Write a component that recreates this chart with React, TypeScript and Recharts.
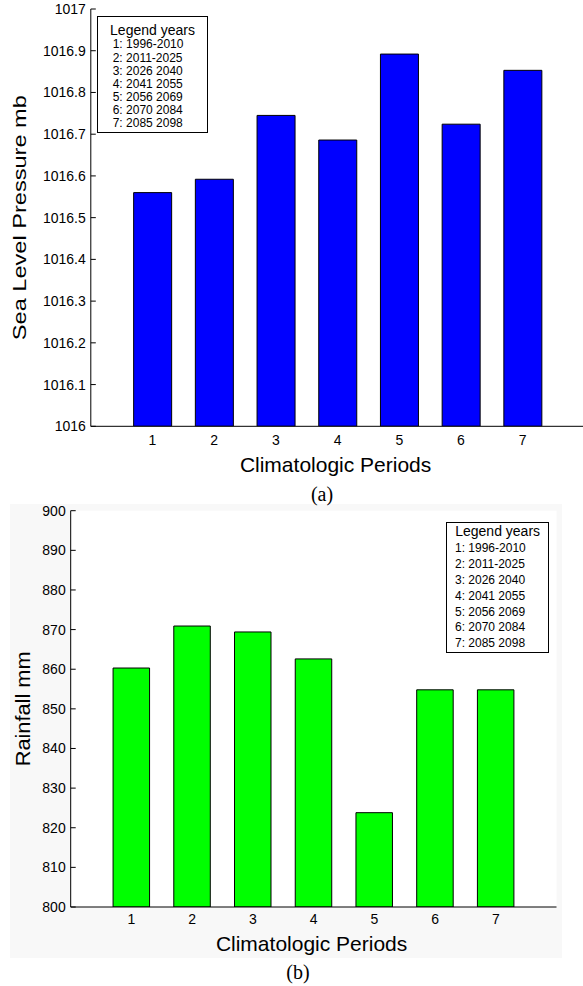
import React from 'react';
import { BarChart, Bar, XAxis, YAxis, CartesianGrid } from 'recharts';

const periods = [1, 2, 3, 4, 5, 6, 7];
const periodYears = ['1996-2010', '2011-2025', '2026 2040', '2041 2055', '2056 2069', '2070 2084', '2085 2098'];

// mean sea level pressure for each period (mb)
const pressureMb = [1016.56, 1016.592, 1016.745, 1016.686, 1016.892, 1016.724, 1016.853];
const pressureTicks = [1016, 1016.1, 1016.2, 1016.3, 1016.4, 1016.5, 1016.6, 1016.7, 1016.8, 1016.9, 1017];

// mean rainfall for each period (mm)
const rainfallMm = [860.3, 870.9, 869.4, 862.6, 823.8, 854.8, 854.8];
const rainfallTicks = [800, 810, 820, 830, 840, 850, 860, 870, 880, 890, 900];

const FONT = '"Liberation Sans", Arial, Helvetica, sans-serif';
const SERIF = '"Liberation Serif", "Times New Roman", serif';

const pressureData = periods.map((p, i) => ({ period: p, value: pressureMb[i] }));
const rainfallData = periods.map((p, i) => ({ period: p, value: rainfallMm[i] }));

const fmtTick = (v: number) => (Number.isInteger(v) ? String(v) : v.toFixed(1));
const tickStyle = { fill: '#000', fontSize: 14, fontFamily: FONT };
const line = { stroke: '#000', strokeWidth: 1 };

const XTitle = (props: any) => {
  const { viewBox, text, dy } = props;
  return (
    <text
      x={viewBox.x + viewBox.width / 2 - 2}
      y={viewBox.y + dy}
      textAnchor="middle"
      dominantBaseline="central"
      fontFamily={FONT}
      fontSize={21}
      fill="#000"
    >
      {text}
    </text>
  );
};

const YTitle = (props: any) => {
  const { viewBox, text, cx, fontSize, length } = props;
  const cy = viewBox.y + viewBox.height / 2;
  return (
    <text
      transform={`translate(${cx},${cy}) rotate(-90)`}
      textAnchor="middle"
      dominantBaseline="central"
      fontFamily={FONT}
      fontSize={fontSize}
      fill="#000"
      textLength={length}
      lengthAdjust="spacingAndGlyphs"
    >
      {text}
    </text>
  );
};

// boxed list of the year ranges behind each period number
const YearsBox = ({ left, top, width, height, headerY, rowY, rowH, indent }: any) => (
  <div
    style={{
      position: 'absolute', left, top, width, height, boxSizing: 'border-box',
      border: '1px solid #000', background: '#fff', fontFamily: FONT, color: '#000',
    }}
  >
    <div style={{ position: 'absolute', left: 0, right: 0, top: headerY - 9, lineHeight: '16px', fontSize: 14, textAlign: 'center' }}>
      Legend years
    </div>
    {periodYears.map((y, i) => (
      <div
        key={y}
        style={{
          position: 'absolute', left: indent, top: rowY + i * rowH - rowH / 2 - 1,
          lineHeight: `${rowH}px`, fontSize: 12, whiteSpace: 'nowrap',
        }}
      >
        {`${periods[i]}: ${y}`}
      </div>
    ))}
  </div>
);

const Caption = ({ x, y, text }: any) => (
  <div style={{ position: 'absolute', left: x - 20, top: y - 12, width: 40, lineHeight: '24px', textAlign: 'center', fontFamily: SERIF, fontSize: 20, color: '#000' }}>
    {text}
  </div>
);

const PeriodBars = ({ data, ticks, domain, color, width, height, margin, yWidth, barSize, xTickGap, title, titleX, titleSize, titleLength, xTitleDy }: any) => (
  <BarChart width={width} height={height} data={data} margin={margin}>
    <CartesianGrid fill="#fff" horizontal={false} vertical={false} />
    <XAxis
      dataKey="period" type="number" domain={[0, 8]} ticks={periods} allowDataOverflow
      height={30} tickSize={0} tickMargin={xTickGap} tick={tickStyle}
      axisLine={line} tickLine={false}
      label={<XTitle text="Climatologic Periods" dy={xTitleDy} />}
    />
    <XAxis
      xAxisId="top" orientation="top" dataKey="period" type="number" domain={[0, 8]} ticks={periods} allowDataOverflow
      height={0} tickSize={-5} tick={false} axisLine={line} tickLine={line}
    />
    <YAxis
      type="number" domain={domain} ticks={ticks} allowDataOverflow interval={0}
      width={yWidth} tickSize={-5} tickMargin={10} tick={tickStyle} tickFormatter={fmtTick}
      axisLine={line} tickLine={line}
      label={<YTitle text={title} cx={titleX} fontSize={titleSize} length={titleLength} />}
    />
    <YAxis
      yAxisId="right" orientation="right" dataKey="value" type="number" domain={domain} ticks={ticks} allowDataOverflow interval={0}
      width={0} tickSize={-5} tick={false} axisLine={line} tickLine={line}
    />
    <Bar dataKey="value" fill={color} stroke="#000" strokeWidth={1} barSize={barSize} isAnimationActive={false} />
  </BarChart>
);

export default function App() {
  return (
    <div style={{ position: 'absolute', left: 0, top: 0, width: 583, height: 986, overflow: 'hidden', background: '#fff' }}>
      <div style={{ position: 'absolute', left: 10, top: 504, width: 552, height: 454, background: '#f8f8f8' }} />

      <div style={{ position: 'absolute', left: 0, top: 0 }}>
        <PeriodBars
          data={pressureData} ticks={pressureTicks} domain={[1016, 1017]} color="#0000ff"
          width={600} height={490} margin={{ top: 9, right: 15.6, bottom: 33.7, left: 10.8 }}
          yWidth={80} barSize={38} xTickGap={8.7}
          title="Sea Level Pressure mb" titleX={20.3} titleSize={18} titleLength={245} xTitleDy={38}
        />
      </div>
      <YearsBox left={97} top={15.7} width={111} height={117.3} headerY={14} rowY={29.3} rowH={13.05} indent={14.7} />
      <Caption x={322} y={494} text="(a)" />

      <div style={{ position: 'absolute', left: 0, top: 480 }}>
        <PeriodBars
          data={rainfallData} ticks={rainfallTicks} domain={[800, 900]} color="#00ff00"
          width={583} height={480} margin={{ top: 30.7, right: 26.5, bottom: 23, left: 10.7 }}
          yWidth={60} barSize={36.5} xTickGap={7.3}
          title="Rainfall mm" titleX={22.5} titleSize={21} titleLength={115} xTitleDy={36}
        />
      </div>
      <YearsBox left={446} top={522} width={103.3} height={131.3} headerY={8.7} rowY={27.3} rowH={15.78} indent={8} />
      <Caption x={298} y={972} text="(b)" />
    </div>
  );
}
